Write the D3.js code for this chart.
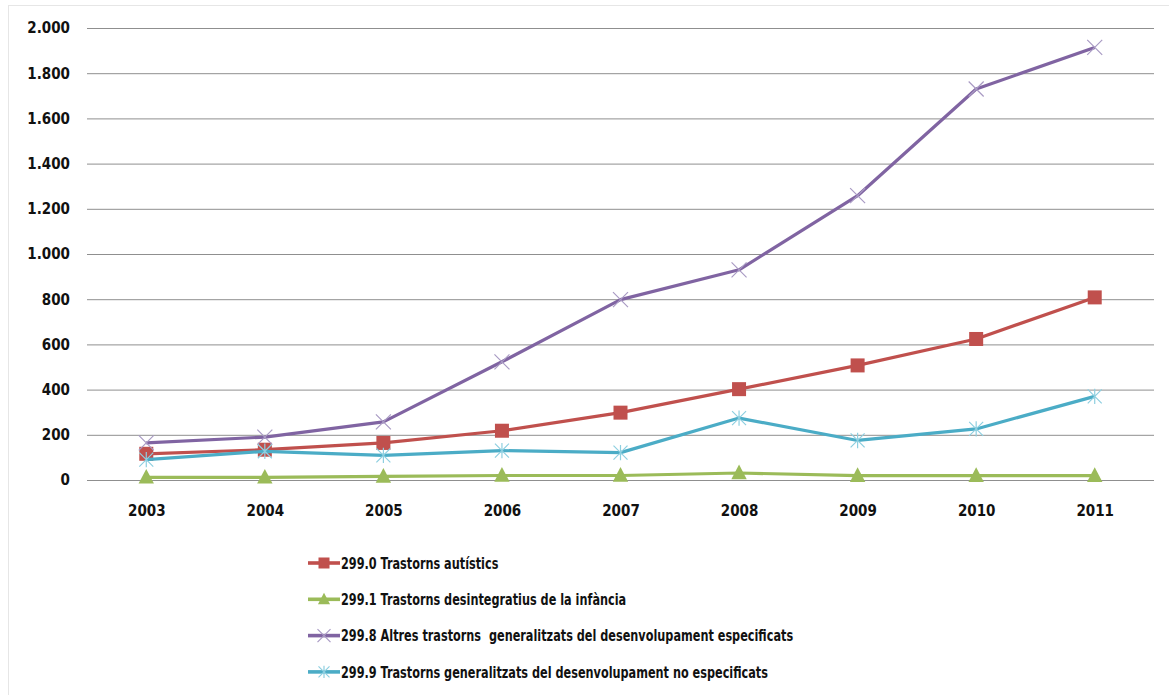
<!DOCTYPE html>
<html>
<head>
<meta charset="utf-8">
<script src="https://cdn.jsdelivr.net/npm/d3@7"></script>
<style>
  body { margin: 0; background: #fff; }
  svg { display: block; }
  .tick text { font-family: "DejaVu Sans Condensed", "DejaVu Sans", sans-serif; font-weight: bold; font-size: 15px; fill: #111; }
  .legend text { font-family: "DejaVu Sans Condensed", "DejaVu Sans", sans-serif; font-weight: bold; font-size: 16.5px; fill: #111; white-space: pre; }
</style>
</head>
<body>
<script>
// Line chart: diagnostics 299.x per year, 2003-2011

const years = ["2003", "2004", "2005", "2006", "2007", "2008", "2009", "2010", "2011"];

const autistics     = [116, 134, 164, 218, 298, 402, 507, 624, 808];
const desintegratius = [12, 12, 16, 20, 20, 31, 19, 19, 19];
const altres        = [164, 190, 257, 523, 798, 930, 1258, 1730, 1914];
const noEspecificats = [90, 127, 109, 130, 121, 274, 175, 226, 370];

const yTicks = [0, 200, 400, 600, 800, 1000, 1200, 1400, 1600, 1800, 2000];

const seriesNames = [
  "299.0 Trastorns autístics",
  "299.1 Trastorns desintegratius de la infància",
  "299.8 Altres trastorns  generalitzats del desenvolupament especificats",
  "299.9 Trastorns generalitzats del desenvolupament no especificats"
];

const colors = ["#c0504d", "#9bbb59", "#8064a2", "#4bacc6"];
const markerColors = ["#c0504d", "#9bbb59", "#a99bc4", "#8ecfe0"];
const markers = ["square", "triangle", "x", "star"];

let width = 1169,
    height = 695;

let margin = { left: 87, right: 15, top: 28, bottom: 215 };

let series = [autistics, desintegratius, altres, noEspecificats].map((vals, i) => ({
  name: seriesNames[i],
  color: colors[i],
  markerColor: markerColors[i],
  marker: markers[i],
  values: vals
}));

let svg = d3.select("body").append("svg")
  .attr("width", width)
  .attr("height", height);

// faint outer frame
svg.append("rect")
  .attr("x", 8.5).attr("y", 5.5)
  .attr("width", width).attr("height", height)
  .attr("fill", "none")
  .attr("stroke", "#e6e6e6");

let x = d3.scalePoint()
  .domain(years)
  .range([margin.left, width - margin.right])
  .padding(0.5);

let y = d3.scaleLinear()
  .domain([0, 2000])
  .range([height - margin.bottom, margin.top]);

let fmt = d3.formatLocale({ decimal: ",", thousands: ".", grouping: [3], currency: ["", "€"] }).format(",d");

// Gridlines + y labels
let yAxis = svg.append("g")
  .attr("transform", `translate(${margin.left},0)`)
  .call(d3.axisLeft(y).tickValues(yTicks).tickFormat(fmt)
    .tickSize(-(width - margin.left - margin.right)).tickPadding(17));

yAxis.select(".domain").remove();
yAxis.selectAll(".tick line").attr("stroke", "#8f8f8f").attr("stroke-width", 1);

// x labels
let xAxis = svg.append("g")
  .attr("transform", `translate(0,${y(0)})`)
  .call(d3.axisBottom(x).tickSize(0).tickPadding(25));

xAxis.select(".domain").remove();

function drawMarker(sel, type, color, size) {
  let s = size;
  if (type == "square") {
    sel.append("rect")
      .attr("x", -s / 2).attr("y", -s / 2)
      .attr("width", s).attr("height", s)
      .attr("fill", color);
  } else if (type == "triangle") {
    sel.append("path")
      .attr("d", `M0,${-s * 0.6} L${s * 0.55},${s * 0.45} L${-s * 0.55},${s * 0.45} Z`)
      .attr("fill", color);
  } else if (type == "x") {
    let h = s / 2;
    sel.append("path")
      .attr("d", `M${-h},${-h} L${h},${h} M${-h},${h} L${h},${-h}`)
      .attr("stroke", color).attr("stroke-width", 1.2).attr("fill", "none");
  } else if (type == "star") {
    let h = s / 2;
    sel.append("path")
      .attr("d", `M${-h},${-h} L${h},${h} M${-h},${h} L${h},${-h} M0,${-h * 1.1} L0,${h * 1.1}`)
      .attr("stroke", color).attr("stroke-width", 1.2).attr("fill", "none");
  }
}

let line = d3.line()
  .x((d, i) => x(years[i]))
  .y(d => y(d));

let plot = svg.append("g").attr("class", "lines");

series.forEach(s => {
  plot.append("path")
    .attr("d", line(s.values))
    .attr("fill", "none")
    .attr("stroke", s.color)
    .attr("stroke-width", 3.2)
    .attr("stroke-linejoin", "round");

  s.values.forEach((v, i) => {
    let g = plot.append("g").attr("transform", `translate(${x(years[i])},${y(v)})`);
    drawMarker(g, s.marker, s.markerColor, s.marker == "x" ? 15 : 14);
  });
});

// Legend
let legend = svg.append("g").attr("class", "legend");
let legendY0 = 563, legendStep = 36.3;

series.forEach((s, i) => {
  let g = legend.append("g").attr("transform", `translate(308,${legendY0 + i * legendStep})`);
  g.append("line")
    .attr("x1", 0).attr("x2", 32)
    .attr("stroke", s.color).attr("stroke-width", 3.6);
  let m = g.append("g").attr("transform", "translate(16,0)");
  drawMarker(m, s.marker, s.markerColor, s.marker == "x" ? 13 : 11);
  // condensed look of the original legend font
  g.append("text")
    .attr("transform", "translate(33,0) scale(0.76,1)")
    .attr("dy", "0.35em")
    .text(s.name);
});
</script>
</body>
</html>
